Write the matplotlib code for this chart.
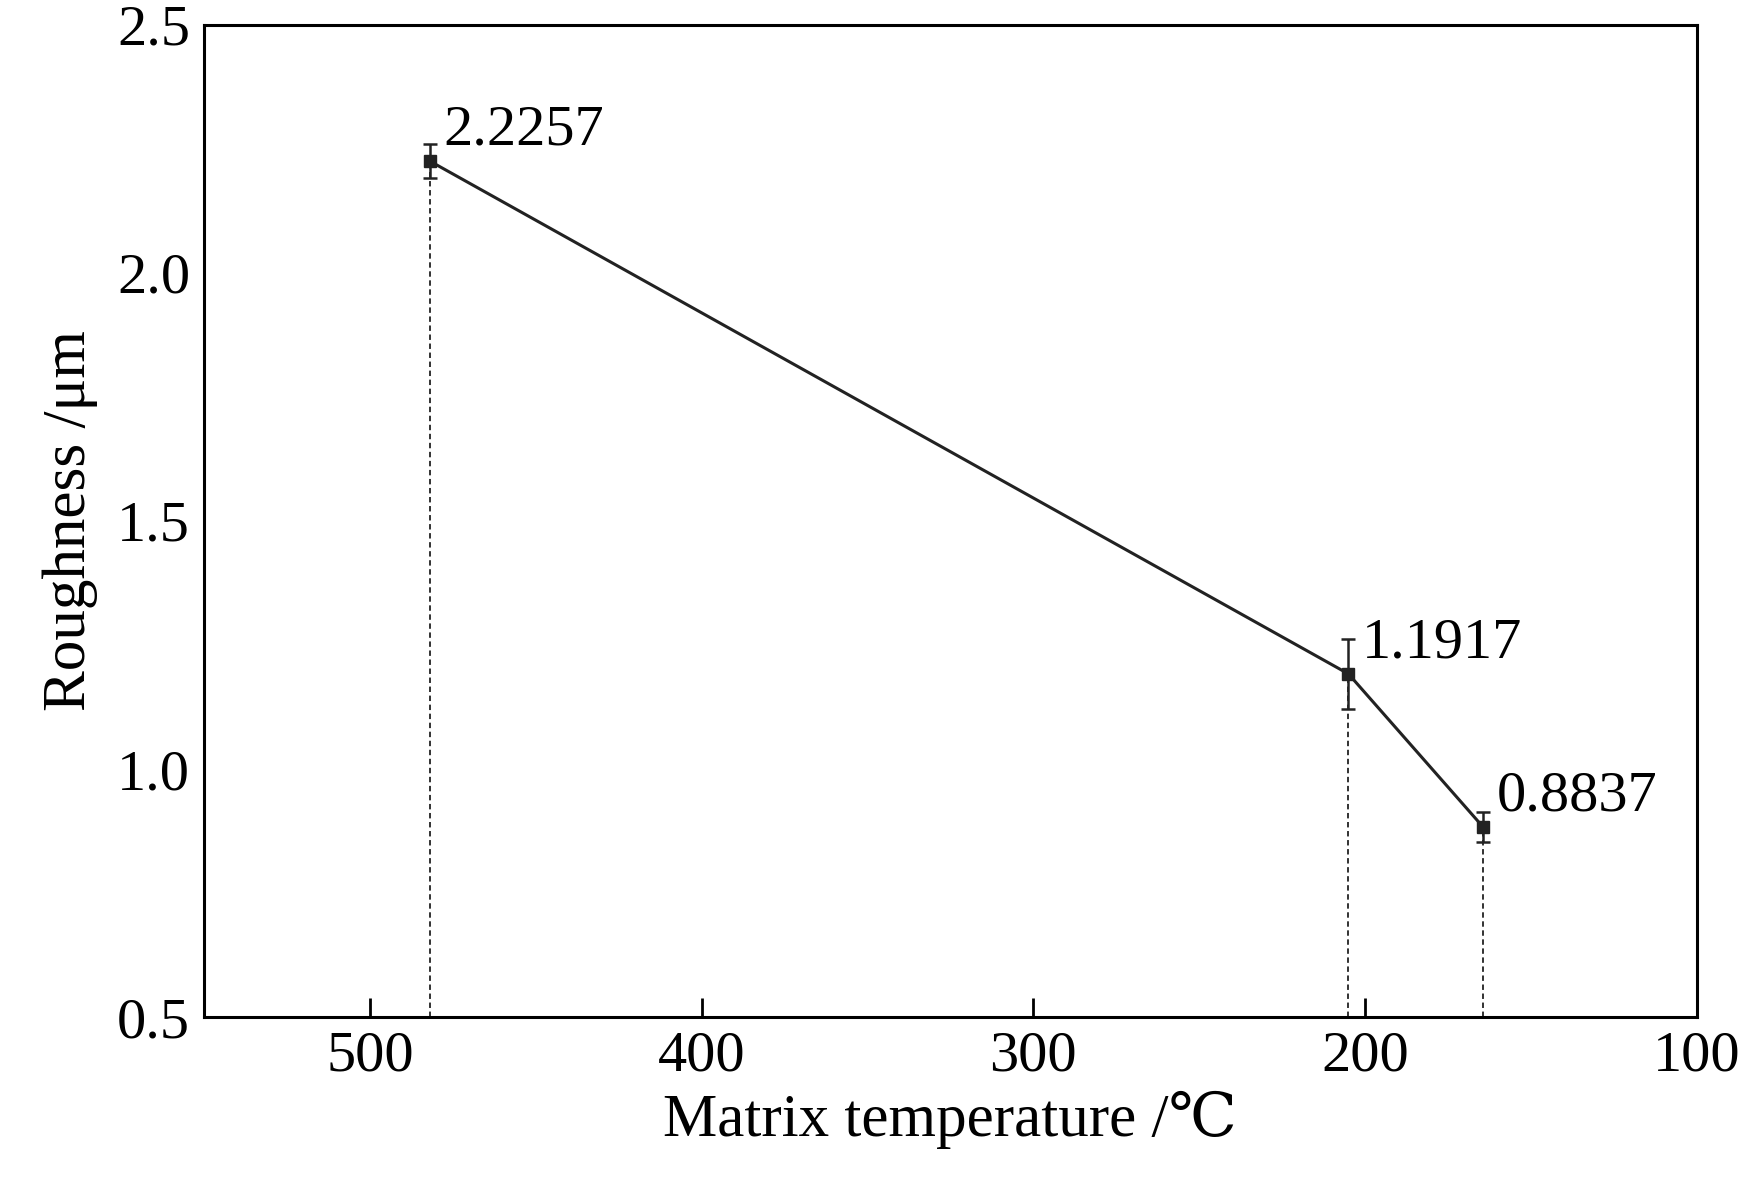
import matplotlib
matplotlib.use("Agg")
import matplotlib.pyplot as plt

temps = [482, 205, 164.5]
rough = [2.2257, 1.1917, 0.8837]
errs = [0.035, 0.07, 0.03]
labels = ["2.2257", "1.1917", "0.8837"]

plt.rcParams['font.family'] = ['Liberation Serif', 'DejaVu Serif']

fig = plt.figure(figsize=(17.48, 11.84), dpi=100)
ax = fig.add_axes([0.1167, 0.141, 0.854, 0.838])

ax.errorbar(temps, rough, yerr=errs, color="#222222", lw=2.2, marker="s", ms=8,
            capsize=5, elinewidth=1.8, capthick=1.8)
for t, r in zip(temps, rough):
    ax.plot([t, t], [0.5, r], color="#222222", ls=(0, (3, 2)), lw=1.3)
for t, r, l in zip(temps, rough, labels):
    ax.annotate(l, (t, r), xytext=(10, 12), textcoords="offset points", fontsize=42)

ax.set_xlim(550, 100)
ax.set_ylim(0.5, 2.5)
ax.set_xticks([500, 400, 300, 200, 100])
ax.set_yticks([0.5, 1.0, 1.5, 2.0, 2.5])
ax.set_yticklabels(["0.5", "1.0", "1.5", "2.0", "2.5"])
ax.tick_params(direction="in", length=14, width=2, labelsize=42, pad=10)
ax.tick_params(axis="y", length=0)
for s in ax.spines.values():
    s.set_linewidth(2.2)
ax.set_xlabel("Matrix temperature /\u2103", fontsize=44, labelpad=6)
ax.set_ylabel("Roughness /\u03bcm", fontsize=44, labelpad=14)

fig.savefig("out.png", dpi=100)
